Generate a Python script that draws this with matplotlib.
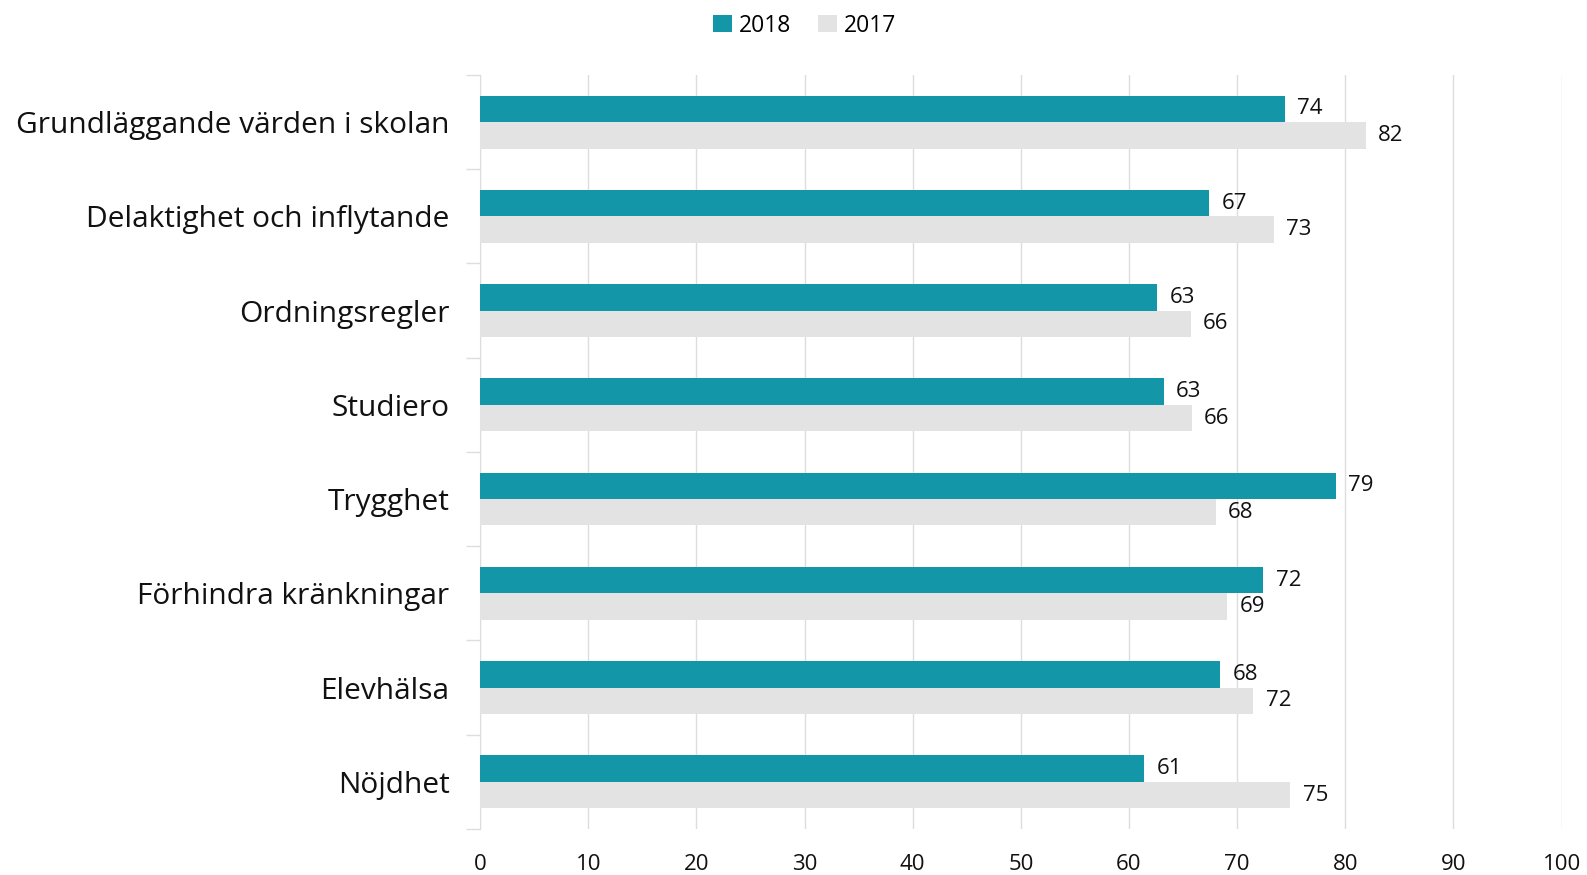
import numpy as np
import matplotlib.pyplot as plt

plt.rcParams["font.family"] = ["Open Sans", "DejaVu Sans"]

# Data
categories = [
    "Grundläggande värden i skolan",
    "Delaktighet och inflytande",
    "Ordningsregler",
    "Studiero",
    "Trygghet",
    "Förhindra kränkningar",
    "Elevhälsa",
    "Nöjdhet",
]
values_2018 = [74.4, 67.4, 62.6, 63.2, 79.1, 72.4, 68.4, 61.4]
values_2017 = [81.9, 73.4, 65.7, 65.8, 68.0, 69.1, 71.5, 74.9]
series_names = ["2018", "2017"]
xticks = list(range(0, 101, 10))

teal = "#1396A8"
light = "#E3E3E3"
grid_col = "#DDDDDD"

fig = plt.figure(figsize=(15.87, 8.75), dpi=100)
ax = fig.add_axes([0.3025, 0.0526, 0.6815, 0.8617])

y = np.arange(len(categories))
h = 0.28
b1 = ax.barh(y - h / 2, values_2018, height=h, color=teal, label=series_names[0], zorder=3)
b2 = ax.barh(y + h / 2, values_2017, height=h, color=light, label=series_names[1], zorder=3)

for bars, vals in [(b1, values_2018), (b2, values_2017)]:
    for rect, v in zip(bars, vals):
        ax.annotate(f"{v:.0f}", (v, rect.get_y() + rect.get_height() / 2),
                    xytext=(9, 0), textcoords="offset points",
                    ha="left", va="center", fontsize=16, color="#111111")

ax.set_xlim(0, 100)
ax.set_ylim(len(categories) - 0.5, -0.5)
ax.set_xticks(xticks)
ax.tick_params(axis="x", length=0, labelsize=16, pad=18, colors="#111111")
ax.xaxis.grid(True, color=grid_col, lw=1, zorder=0)

# category labels, ticks between categories
ax.set_yticks(y)
ax.set_yticklabels(categories, fontsize=21.5, color="#111111")
ax.tick_params(axis="y", length=0, pad=22)
ax.set_yticks(np.arange(len(categories) + 1) - 0.5, minor=True)
ax.tick_params(axis="y", which="minor", length=10, color=grid_col, width=1)

for s in ["top", "right", "bottom"]:
    ax.spines[s].set_visible(False)
ax.spines["left"].set_color(grid_col)

fig.legend(handles=[b1, b2], loc="upper center", bbox_to_anchor=(0.507, 1.008),
           ncol=2, frameon=False, fontsize=16.5, handlelength=0.8, handleheight=0.8,
           handletextpad=0.3, columnspacing=1.2)

fig.savefig("out.png", dpi=100)
